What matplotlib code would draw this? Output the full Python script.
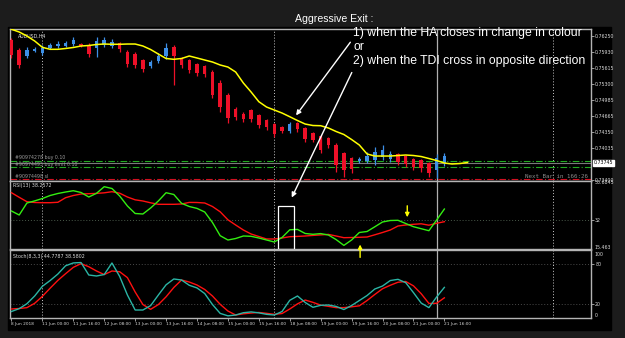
import numpy as np
import matplotlib.pyplot as plt
from matplotlib.patches import Rectangle

# ------------------------------------------------------------
# Values (8 Jun - 21 Jun 2018)
# ------------------------------------------------------------

tick_labels = [
    "8 Jun 2018", "11 Jun 00:00", "11 Jun 16:00", "12 Jun 08:00",
    "13 Jun 00:00", "13 Jun 16:00", "14 Jun 08:00", "15 Jun 00:00",
    "15 Jun 16:00", "18 Jun 08:00", "19 Jun 00:00", "19 Jun 16:00",
    "20 Jun 08:00", "21 Jun 00:00", "21 Jun 16:00",
]

# Heiken Ashi candles
ha_open = [
    0.76165, 0.75968, 0.75850, 0.75949, 0.75909, 0.76008, 0.76047, 0.76047,
    0.76086, 0.76086, 0.76067, 0.76008, 0.76067, 0.76047, 0.76106, 0.75929,
    0.75889, 0.75771, 0.75653, 0.75752, 0.75850, 0.76027, 0.75811, 0.75771,
    0.75692, 0.75653, 0.75535, 0.75318, 0.75082, 0.74806, 0.74707, 0.74786,
    0.74688, 0.74589, 0.74510, 0.74451, 0.74373, 0.74530, 0.74432, 0.74333,
    0.74274, 0.74235, 0.74097, 0.73939, 0.73841, 0.73782, 0.73782, 0.73801,
    0.73861, 0.73821, 0.73920, 0.73880, 0.73821, 0.73801, 0.73742, 0.73605,
    0.73742,
]
ha_close = [
    0.75870, 0.75673, 0.75968, 0.75988, 0.76008, 0.76067, 0.76086, 0.76106,
    0.76165, 0.76047, 0.75889, 0.76146, 0.76165, 0.76126, 0.75988, 0.75692,
    0.75673, 0.75594, 0.75732, 0.75850, 0.76008, 0.75850, 0.75673, 0.75574,
    0.75515, 0.75495, 0.75082, 0.74845, 0.74629, 0.74648, 0.74609, 0.74609,
    0.74491, 0.74451, 0.74314, 0.74373, 0.74510, 0.74412, 0.74215, 0.74195,
    0.73998, 0.74097, 0.73703, 0.73605, 0.73624, 0.73821, 0.73880, 0.73959,
    0.73998, 0.73920, 0.73762, 0.73723, 0.73664, 0.73644, 0.73545, 0.73841,
    0.73880,
]
ha_high = [
    0.76205, 0.76008, 0.76027, 0.76027, 0.76067, 0.76106, 0.76146, 0.76146,
    0.76224, 0.76106, 0.76106, 0.76224, 0.76224, 0.76185, 0.76126, 0.75968,
    0.75929, 0.75791, 0.75771, 0.75909, 0.76106, 0.76067, 0.75830, 0.75791,
    0.75712, 0.75673, 0.75574, 0.75377, 0.75121, 0.74845, 0.74747, 0.74806,
    0.74707, 0.74609, 0.74530, 0.74471, 0.74550, 0.74550, 0.74451, 0.74353,
    0.74294, 0.74254, 0.74136, 0.73959, 0.73861, 0.73861, 0.73959, 0.74058,
    0.74097, 0.73979, 0.73939, 0.73900, 0.73841, 0.73821, 0.73762, 0.73920,
    0.73939,
]
ha_low = [
    0.75811, 0.75614, 0.75811, 0.75929, 0.75870, 0.75988, 0.76008, 0.76027,
    0.76047, 0.76027, 0.75830, 0.75830, 0.76027, 0.76008, 0.75929, 0.75633,
    0.75614, 0.75535, 0.75614, 0.75712, 0.75791, 0.75279, 0.75614, 0.75515,
    0.75456, 0.75436, 0.75023, 0.74747, 0.74530, 0.74589, 0.74550, 0.74550,
    0.74432, 0.74392, 0.74254, 0.74333, 0.74333, 0.74353, 0.74156, 0.74156,
    0.73939, 0.74038, 0.73565, 0.73467, 0.73545, 0.73742, 0.73742, 0.73703,
    0.73801, 0.73762, 0.73703, 0.73664, 0.73605, 0.73565, 0.73467, 0.73447,
    0.73683,
]

# yellow moving average, shifted 3 bars forward
ma_values = [
    0.76376, 0.76323, 0.76244, 0.76146, 0.76021, 0.75982, 0.75982, 0.75998,
    0.76018, 0.76047, 0.76057, 0.76077, 0.76086, 0.76081, 0.76081, 0.76086,
    0.76086, 0.76047, 0.75978, 0.75889, 0.75801, 0.75785, 0.75801, 0.75850,
    0.75811, 0.75771, 0.75732, 0.75673, 0.75633, 0.75535, 0.75318, 0.75141,
    0.74950, 0.74845, 0.74786, 0.74727, 0.74654, 0.74579, 0.74510, 0.74481,
    0.74477, 0.74432, 0.74363, 0.74304, 0.74205, 0.74097, 0.73920, 0.73880,
    0.73880, 0.73880, 0.73890, 0.73900, 0.73890, 0.73870, 0.73831, 0.73791,
    0.73742, 0.73723, 0.73732, 0.73752,
]

rsi_line = [
    37.14, 34.86, 41.71, 42.90, 44.27, 45.98, 47.13, 47.98, 48.72, 47.70,
    45.13, 47.24, 51.01, 49.98, 45.70, 40.00, 35.72, 35.43, 38.85, 42.85,
    47.58, 46.56, 41.53, 39.71, 38.63, 36.57, 30.58, 23.05, 20.60, 21.45,
    22.88, 22.71, 21.74, 20.60, 19.46, 22.02, 26.42, 26.64, 24.31, 23.85,
    24.25, 23.45, 20.83, 17.52, 20.60, 24.88, 25.45, 28.13, 30.87, 31.72,
    31.84, 30.01, 28.19, 27.04, 25.90, 32.01, 38.26,
]
rsi_signal = [
    47.58, 44.96, 42.45, 41.99, 41.88, 41.88, 42.11, 44.73, 45.98, 46.84,
    47.01, 47.18, 47.52, 48.15, 47.30, 45.13, 43.53, 42.85, 41.82, 40.96,
    40.96, 40.96, 41.13, 42.05, 41.99, 41.71, 39.71, 36.69, 32.12, 29.16,
    26.30, 24.02, 22.59, 21.17, 21.17, 21.74, 22.48, 22.65, 22.88, 23.22,
    23.51, 23.79, 22.88, 21.91, 22.02, 22.14, 22.31, 23.56, 24.88, 26.30,
    28.58, 29.16, 29.55, 29.84, 29.04, 30.13, 31.04,
]

stoch_k = [
    9.2, 13.4, 20.7, 32.1, 46.4, 54.9, 64.5, 76.7, 80.9, 81.5,
    63.1, 61.6, 63.8, 80.8, 60.9, 33.5, 11.4, 11.4, 17.9, 33.5,
    48.6, 57.2, 55.7, 47.9, 44.0, 35.7, 19.5, 6.4, 2.8, 4.0,
    7.4, 8.6, 7.2, 5.0, 4.0, 9.2, 25.7, 32.1, 22.5, 15.4,
    18.3, 18.8, 16.7, 12.1, 18.0, 25.4, 32.8, 42.4, 46.8, 54.9,
    56.7, 51.8, 37.1, 21.7, 14.9, 30.6, 44.8,
]
stoch_d = [
    12.9, 13.6, 14.9, 21.3, 31.6, 43.6, 55.1, 65.0, 74.4, 79.9,
    75.3, 69.0, 63.7, 69.0, 67.9, 59.2, 38.0, 19.5, 12.4, 19.4,
    30.9, 44.6, 55.7, 52.7, 48.3, 41.7, 32.1, 19.8, 9.9, 4.0,
    5.8, 6.9, 7.8, 6.5, 5.0, 6.2, 12.9, 20.5, 26.1, 22.7,
    18.6, 16.8, 14.9, 14.9, 16.1, 17.6, 25.4, 34.3, 42.8, 47.9,
    52.4, 53.5, 47.1, 35.5, 21.1, 21.3, 29.4,
]

price_ticks = [0.76250, 0.75930, 0.75615, 0.75300, 0.74985,
               0.74665, 0.74350, 0.74035, 0.73400]
bid_price = 0.73745
buy_price = 0.73788
buy_limit_price = 0.73657
sl_price = 0.73427

rsi_level = 32
stoch_levels = [20, 80]

week_separators = [4, 34, 70]
cursor_bar = 55

# ------------------------------------------------------------
# Figure / panels
# ------------------------------------------------------------

W, H = 625, 338
fig = plt.figure(figsize=(W / 100, H / 100), dpi=100, facecolor="#1c1c1c")
fig.add_artist(Rectangle((8 / W, 1 - 330 / H), 603 / W, 303 / H,
                         transform=fig.transFigure, color="black", zorder=-10))

ax_main = fig.add_axes([10 / W, 1 - 181 / H, 581 / W, 152 / H])
ax_rsi = fig.add_axes([10 / W, 1 - 249 / H, 581 / W, 68 / H])
ax_sto = fig.add_axes([10 / W, 1 - 318 / H, 581 / W, 68 / H])

LBL = 3.4
for ax in [ax_main, ax_rsi, ax_sto]:
    ax.set_facecolor("black")
    for s in ax.spines.values():
        s.set_color("#b4b4b4")
        s.set_linewidth(1.0)
    ax.set_xlim(-0.19, 74.97)
    ax.yaxis.tick_right()
    ax.tick_params(axis="y", colors="#b4b4b4", labelcolor="#d8d8d8",
                   labelsize=LBL, length=2, width=0.6, pad=1)
    ax.tick_params(axis="x", bottom=False, labelbottom=False)
    for sep in week_separators:
        ax.axvline(sep, color="#c8c8c8", lw=0.7, ls=(0, (1, 2)))
    ax.axvline(cursor_bar, color="#b0b0b0", lw=0.9)

# ------------------------------------------------------------
# Main panel: Heiken Ashi + MA + order lines
# ------------------------------------------------------------

x = np.arange(len(ha_open))
o = np.array(ha_open)
c = np.array(ha_close)
colors = np.where(c >= o, "#3d8fe6", "#ee1028")

ax_main.vlines(x, ha_low, ha_high, colors=colors, lw=0.9, zorder=3)
ax_main.bar(x, np.abs(c - o), bottom=np.minimum(o, c), width=0.45,
            color=colors, zorder=4)
ax_main.plot(np.arange(len(ma_values)), ma_values, color="#ffff00", lw=1.1,
             zorder=5)

ax_main.axhline(buy_price, color="#22aa22", lw=0.8, ls=(0, (6, 2, 1, 2)))
ax_main.axhline(buy_limit_price, color="#22aa22", lw=0.8, ls=(0, (6, 2, 1, 2)))
ax_main.axhline(sl_price, color="#d01020", lw=0.8, ls=(0, (6, 2, 1, 2)))
ax_main.axhline(bid_price, color="#7a7a7a", lw=0.8)

ax_main.set_ylim(0.73388, 0.76382)
ax_main.set_yticks(price_ticks)
ax_main.set_yticklabels([f"{p:.5f}" for p in price_ticks])
ax_main.text(1.004, bid_price, f"{bid_price:.5f}", transform=ax_main.get_yaxis_transform(),
             fontsize=LBL, color="black", va="center", ha="left",
             bbox=dict(boxstyle="square,pad=0.15", fc="white", ec="white"))

ax_main.text(0.5, buy_price + 0.00005, "#90974278 buy 0.10", fontsize=LBL,
             color="#9a9a9a", va="bottom")
ax_main.text(0.5, buy_limit_price + 0.00005, "#90974493 buy limit 0.10",
             fontsize=LBL, color="#9a9a9a", va="bottom")
ax_main.text(0.5, sl_price + 0.00005, "#90974498 sl", fontsize=LBL,
             color="#9a9a9a", va="bottom")
ax_main.text(0.995, sl_price + 0.0001, "Next Bar in 166:26", fontsize=4.2,
             family="DejaVu Sans Mono", color="#8a8a8a", ha="right", va="bottom",
             transform=ax_main.get_yaxis_transform())
ax_main.text(0.014, 0.955, "AUDUSD,H4", transform=ax_main.transAxes,
             fontsize=LBL, color="#e0e0e0", va="center")

# ------------------------------------------------------------
# RSI panel
# ------------------------------------------------------------

ax_rsi.plot(x, rsi_line, color="#33ee11", lw=1.0, zorder=4)
ax_rsi.plot(x, rsi_signal, color="#ff1010", lw=1.0, zorder=3)
ax_rsi.axhline(rsi_level, color="#4a5a4a", lw=0.7, ls=(0, (1, 2)))
ax_rsi.set_ylim(15.463, 54.26)
ax_rsi.set_yticks([rsi_level])
ax_rsi.set_yticklabels([str(rsi_level)])
yt = ax_rsi.get_yaxis_transform()
ax_rsi.text(1.006, 53.6845, "53.6845", transform=yt, fontsize=LBL,
            color="#d8d8d8", va="center")
ax_rsi.text(1.006, 16.4, "15.463", transform=yt, fontsize=LBL,
            color="#d8d8d8", va="center")
ax_rsi.text(0.006, 0.94, f"RSI(13) {38.2572:.4f}", transform=ax_rsi.transAxes,
            fontsize=LBL, color="#d8d8d8", va="center")

ax_rsi.add_patch(Rectangle((34.5, 15.6), 2.0, 24.4, fill=False,
                           ec="white", lw=0.9, zorder=6))
ax_rsi.annotate("", xy=(51.2, 32.0), xytext=(51.2, 41.7),
                arrowprops=dict(arrowstyle="-|>", color="#ffff00", lw=1.0,
                                mutation_scale=6))

# ------------------------------------------------------------
# Stochastic panel
# ------------------------------------------------------------

ax_sto.plot(x, stoch_k, color="#2bb5a5", lw=1.0, zorder=4)
ax_sto.plot(x, stoch_d, color="#ff1010", lw=1.0, zorder=3)
for lev in stoch_levels:
    ax_sto.axhline(lev, color="#4a4a4a", lw=0.7, ls=(0, (1, 2)))
ax_sto.set_ylim(-0.4, 100)
ax_sto.set_yticks([80, 20])
ax_sto.set_yticklabels(["80", "20"])
yt = ax_sto.get_yaxis_transform()
ax_sto.text(1.006, 94, "100", transform=yt, fontsize=LBL, color="#d8d8d8",
            va="center")
ax_sto.text(1.006, 4, "0", transform=yt, fontsize=LBL, color="#d8d8d8",
            va="center")
ax_sto.text(0.006, 0.9, "Stoch(8,3,3) 44.7787 38.5802",
            transform=ax_sto.transAxes, fontsize=LBL, color="#d8d8d8",
            va="center")

ax_sto.set_xticks(np.arange(0, len(x), 4))
ax_sto.set_xticklabels(tick_labels, ha="left")
ax_sto.tick_params(axis="x", bottom=True, labelbottom=True, colors="#b4b4b4",
                   labelcolor="#d8d8d8", labelsize=3.1, length=2, width=0.6,
                   pad=1)

# yellow up arrow from the stochastic panel into the RSI panel
ax_sto.annotate("", xy=(45.1, 19.6), xycoords=ax_rsi.transData,
                xytext=(45.1, 85), textcoords="data",
                arrowprops=dict(arrowstyle="-|>", color="#ffff00", lw=1.0,
                                mutation_scale=6),
                annotation_clip=False)

# ------------------------------------------------------------
# Annotation text + white arrows
# ------------------------------------------------------------

txt = dict(family="Liberation Sans", color="white", va="center")
fig.text(295 / W, 1 - 19 / H, "Aggressive Exit :", fontsize=7.6, **txt)
fig.text(353 / W, 1 - 33 / H, "1) when the HA closes in change in colour",
         fontsize=8.8, **txt)
fig.text(353 / W, 1 - 47 / H, "or", fontsize=8.8, **txt)
fig.text(353 / W, 1 - 61 / H, "2) when the TDI cross in opposite direction",
         fontsize=8.8, **txt)

arrow = dict(arrowstyle="-|>", color="white", lw=1.0, mutation_scale=7)
ax_main.annotate("", xy=(36.6, 0.74637), xytext=(352 / W, 1 - 40 / H),
                 textcoords="figure fraction", arrowprops=arrow)
ax_sto.annotate("", xy=(36.1, 43.4), xycoords=ax_rsi.transData,
                xytext=(353 / W, 1 - 70 / H), textcoords="figure fraction",
                arrowprops=arrow, annotation_clip=False)

plt.savefig("out.png", dpi=100, facecolor=fig.get_facecolor())
